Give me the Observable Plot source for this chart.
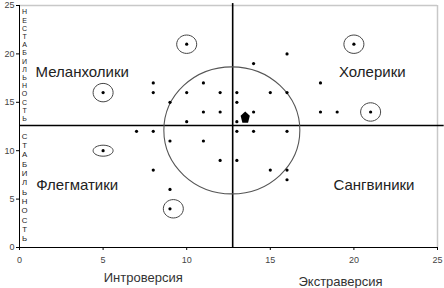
<!DOCTYPE html>
<html>
<head>
<meta charset="utf-8">
<script src="https://cdn.jsdelivr.net/npm/d3@7"></script>
<script src="https://cdn.jsdelivr.net/npm/@observablehq/plot@0.6"></script>
<style>
  html, body { margin: 0; padding: 0; background: #fff; }
  #chart svg { display: block; font-family: "Liberation Sans", Arial, sans-serif; }
</style>
</head>
<body>
<div id="chart"></div>
<script>
// ---- data ----
const dotX = [5, 5, 10, 20, 21, 9, 16, 14, 8, 11, 18, 8, 10, 12, 13, 15, 16, 9, 13, 11, 12, 14, 18, 19, 10, 13, 7, 8, 13, 14, 16, 9, 11, 12, 13, 8, 15, 16, 16, 9];
const dotY = [16, 10, 21, 21, 14, 4, 20, 19, 17, 17, 17, 16, 16, 16, 16, 16, 16, 15, 15, 14, 14, 14, 14, 14, 13, 13, 12, 12, 12, 12, 12, 11, 11, 9, 9, 8, 8, 8, 7, 6];
const circledX = [5, 10, 20, 21, 9.2];
const circledY = [16, 21, 21, 14, 4];
const flatCircledX = [5];
const flatCircledY = [10];
const markerX = [13.5];
const markerY = [13.5];
const clusterX = [12.7];
const clusterY = [12.1];
const dividerX = [12.75];
const dividerY = [12.6];
const quadrantLabels = ["Меланхолики", "Холерики", "Флегматики", "Сангвиники"];
const quadrantX = [3.75, 21.1, 3.45, 21.2];
const quadrantY = [18.1, 18.1, 6.4, 6.4];
const leftTitle = ["Интроверсия"];
const leftTitleX = [7.4];
const rightTitle = ["Экстраверсия"];
const rightTitleX = [19.2];
const upperSide = ["НЕСТАБИЛЬНОСТЬ"];
const upperSideY = [18.85];
const lowerSide = ["СТАБИЛЬНОСТЬ"];
const lowerSideY = [6.25];
const ticks = [0, 5, 10, 15, 20, 25];

// ---- symbols ----
function ellipseSymbol(aspect) {
  const k = 0.5523;
  return {
    draw(ctx, size) {
      const rx = Math.sqrt(size / Math.PI), ry = rx * aspect;
      const kx = rx * k, ky = ry * k;
      ctx.moveTo(rx, 0);
      ctx.bezierCurveTo(rx, ky, kx, ry, 0, ry);
      ctx.bezierCurveTo(-kx, ry, -rx, ky, -rx, 0);
      ctx.bezierCurveTo(-rx, -ky, -kx, -ry, 0, -ry);
      ctx.bezierCurveTo(kx, -ry, rx, -ky, rx, 0);
      ctx.closePath();
    }
  };
}
const pentagon = {
  draw(ctx, size) {
    const r = Math.sqrt(size / Math.PI);
    for (let i = 0; i < 5; i++) {
      const a = -Math.PI / 2 + i * 2 * Math.PI / 5;
      const px = 0.78 * r * Math.cos(a), py = r * Math.sin(a) + 0.9;
      if (i === 0) ctx.moveTo(px, py); else ctx.lineTo(px, py);
    }
    ctx.closePath();
  }
};

const pairs = (xs, ys) => xs.map((x, i) => ({x, y: ys[i]}));
const dots = pairs(dotX, dotY);
const circled = pairs(circledX, circledY);
const flatCircled = pairs(flatCircledX, flatCircledY);
const marker = pairs(markerX, markerY);
const cluster = pairs(clusterX, clusterY);
const quadrants = quadrantLabels.map((t, i) => ({t, x: quadrantX[i], y: quadrantY[i]}));
const stack = (labels, ys) => labels.map((t, i) => ({t: t.split("").join("\n"), y: ys[i]}));
const titleRows = (labels, xs) => labels.map((t, i) => ({t, x: xs[i]}));

const chart = Plot.plot({
  width: 444,
  height: 288,
  marginLeft: 19,
  marginRight: 7,
  marginTop: 5,
  marginBottom: 41,
  x: {domain: [0, 25]},
  y: {domain: [0, 25]},
  style: {background: "#fff", fontFamily: "'Liberation Sans', Arial, sans-serif"},
  marks: [
    // frame top/right
    Plot.ruleY([25], {stroke: "#c8c8c8", strokeWidth: 1.5}),
    Plot.ruleX([25], {stroke: "#c8c8c8", strokeWidth: 1.5}),
    // axes
    Plot.axisX({ticks, tickSize: 3, tickPadding: 6, fontSize: 9, fill: "#444", stroke: "#000", label: null}),
    Plot.axisY({ticks, tickSize: 3, tickPadding: 2, fontSize: 9, fill: "#444", stroke: "#000", label: null}),
    Plot.ruleX([0], {stroke: "#000", strokeWidth: 1}),
    Plot.ruleY([0], {stroke: "#000", strokeWidth: 1}),
    // dividers
    Plot.ruleY(dividerY, {x1: 0, x2: 25.4, stroke: "#000", strokeWidth: 1.6, clip: false}),
    Plot.ruleX(dividerX, {y1: 0, y2: 25.2, stroke: "#000", strokeWidth: 1.6, clip: false}),
    // big cluster ellipse
    Plot.dot(cluster, {x: "x", y: "y", r: 68, symbol: ellipseSymbol(0.934), fill: "none", stroke: "#555", strokeWidth: 1.1}),
    // small circles
    Plot.dot(circled, {x: "x", y: "y", r: 10, symbol: ellipseSymbol(0.92), fill: "none", stroke: "#444", strokeWidth: 1}),
    Plot.dot(flatCircled, {x: "x", y: "y", r: 10, symbol: ellipseSymbol(0.55), fill: "none", stroke: "#444", strokeWidth: 1}),
    // points
    Plot.dot(dots, {x: "x", y: "y", r: 1.6, fill: "#000", stroke: "none"}),
    Plot.dot(marker, {x: "x", y: "y", r: 6.2, symbol: pentagon, fill: "#000", stroke: "none"}),
    // quadrant labels
    Plot.text(quadrants, {x: "x", y: "y", text: "t", fontSize: 15, fill: "#222"}),
    // side stacked labels
    Plot.text(stack(upperSide, upperSideY), {x: 0.3, y: "y", text: "t", fontSize: 7, fill: "#222", lineHeight: 1.17, lineAnchor: "middle", textAnchor: "middle"}),
    Plot.text(stack(lowerSide, lowerSideY), {x: 0.3, y: "y", text: "t", fontSize: 7.8, fill: "#222", lineHeight: 1.2, lineAnchor: "middle", textAnchor: "middle"}),
    // axis titles
    Plot.text(titleRows(leftTitle, leftTitleX), {x: "x", frameAnchor: "bottom", dy: 30, text: "t", fontSize: 13, fill: "#333", lineAnchor: "middle"}),
    Plot.text(titleRows(rightTitle, rightTitleX), {x: "x", frameAnchor: "bottom", dy: 34, text: "t", fontSize: 13, fill: "#333", lineAnchor: "middle"})
  ]
});
document.getElementById("chart").append(chart);
</script>
</body>
</html>
